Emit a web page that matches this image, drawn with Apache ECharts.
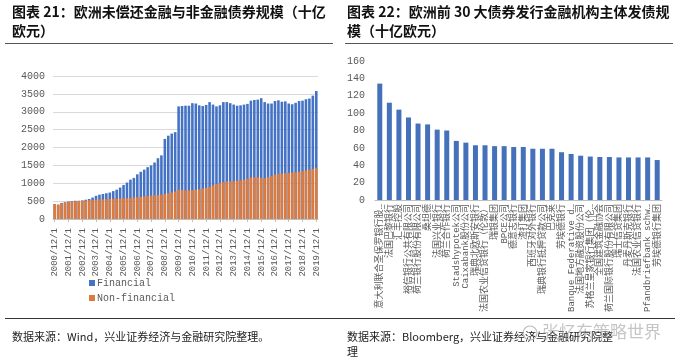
<!DOCTYPE html>
<html>
<head>
<meta charset="utf-8">
<script src="https://cdn.jsdelivr.net/npm/echarts@6/dist/echarts.min.js"></script>
<style>
html,body{margin:0;padding:0;background:#fff;}
#c{width:680px;height:357px;}
</style>
</head>
<body>
<div id="c"></div>
<script>
// ---------- Left chart data (quarterly, 十亿欧元) ----------
var dates = [
 '2000/12/1','2001/3/1','2001/6/1','2001/9/1','2001/12/1','2002/3/1','2002/6/1','2002/9/1',
 '2002/12/1','2003/3/1','2003/6/1','2003/9/1','2003/12/1','2004/3/1','2004/6/1','2004/9/1',
 '2004/12/1','2005/3/1','2005/6/1','2005/9/1','2005/12/1','2006/3/1','2006/6/1','2006/9/1',
 '2006/12/1','2007/3/1','2007/6/1','2007/9/1','2007/12/1','2008/3/1','2008/6/1','2008/9/1',
 '2008/12/1','2009/3/1','2009/6/1','2009/9/1','2009/12/1','2010/3/1','2010/6/1','2010/9/1',
 '2010/12/1','2011/3/1','2011/6/1','2011/9/1','2011/12/1','2012/3/1','2012/6/1','2012/9/1',
 '2012/12/1','2013/3/1','2013/6/1','2013/9/1','2013/12/1','2014/3/1','2014/6/1','2014/9/1',
 '2014/12/1','2015/3/1','2015/6/1','2015/9/1','2015/12/1','2016/3/1','2016/6/1','2016/9/1',
 '2016/12/1','2017/3/1','2017/6/1','2017/9/1','2017/12/1','2018/3/1','2018/6/1','2018/9/1',
 '2018/12/1','2019/3/1','2019/6/1','2019/9/1','2019/12/1'
];
var financial = [
 420,400,450,470,490,500,510,510,
 520,540,560,600,650,680,700,720,
 740,780,820,880,950,1020,1100,1150,
 1250,1320,1380,1450,1500,1580,1700,1780,
 2240,2330,2390,2430,3150,3160,3170,3170,
 3240,3230,3180,3160,3190,3270,3200,3150,
 3180,3270,3270,3240,3200,3170,3180,3200,
 3220,3310,3330,3340,3380,3270,3230,3230,
 3300,3320,3280,3290,3230,3210,3250,3300,
 3310,3350,3370,3450,3580
];
var nonFinancial = [
 420,400,440,460,480,490,500,505,
 510,520,525,530,540,545,550,555,
 560,565,570,575,580,585,590,600,
 610,620,630,645,655,665,670,680,
 700,720,745,770,820,810,800,800,
 810,820,830,850,870,900,940,980,
 1000,1030,1050,1050,1060,1070,1080,1100,
 1130,1160,1170,1170,1150,1140,1170,1200,
 1240,1260,1270,1280,1290,1300,1310,1320,
 1340,1360,1380,1400,1420
];
var leftYTicks = [0,500,1000,1500,2000,2500,3000,3500,4000];

// ---------- Right chart data ----------
var issuers = [
 '意大利联合圣保罗银行股份有限公司','法国巴黎银行','汇丰控股','裕信银行公共有限公司',
 '荷兰银行股份有限公司','桑坦德','法国兴业银行','荷兰合作银行','Stadshypotek公司',
 'Caixabank股份公司','瑞典北欧斯安银行','法国农业信贷银行（伦敦）','瑞银集团','BPCE公司',
 '德意志银行','渣打集团','西班牙对外银行','瑞典银行抵押贷款公司','巴克莱','劳埃德银行',
 'Banque Federative du Credit Mutuel','法国地方融资股份公司','苏格兰皇家银行集团（伦敦分行）',
 '全国建筑金融协会','荷兰国际银行股份有限公司','瑞士信贷集团','丹麦丹斯克银行',
 '法国农业信贷银行','Pfandbriefbank schweizerischer','劳埃德银行集团'
];
var issuance = [
 134,112,104,95,88,87,81,80,68,66,
 63,63,62,62,61,61,59,59,59,55,
 53,51,50,49.5,49.5,49,49,49,49,46
];
var rightYTicks = [0,20,40,60,80,100,120,140,160];

var mono = "'Liberation Mono','Noto Sans CJK SC',monospace";
var cjk = "'Noto Sans CJK SC',sans-serif";
var gray = '#595959';
function plain(v){ return String(v); }

var chart = echarts.init(document.getElementById('c'), null, {renderer:'canvas'});
chart.setOption({
  animation:false,
  backgroundColor:'#fff',
  grid:[
    {left:53, right:362, top:76, bottom:138, containLabel:false},
    {left:375, right:18, top:61, bottom:157, containLabel:false}
  ],
  legend:{
    data:['Financial','Non-financial'],
    left:84, top:273, orient:'vertical', itemWidth:6, itemHeight:6, itemGap:5,
    textStyle:{fontFamily:mono, fontSize:10, color:gray, padding:[0,0,0,-3]},
    icon:'rect'
  },
  xAxis:[
    {type:'category', gridIndex:0, data:dates,
     axisLine:{lineStyle:{color:'#BFBFBF'}},
     axisTick:{show:true, interval:3, alignWithLabel:true, length:3, lineStyle:{color:'#BFBFBF'}},
     axisLabel:{interval:3, rotate:90, fontFamily:mono, fontSize:9, color:gray, margin:9}
    },
    {type:'category', gridIndex:1, data:issuers,
     axisLine:{lineStyle:{color:'#BFBFBF'}},
     axisTick:{show:false},
     axisLabel:{interval:0, rotate:90, fontFamily:mono, fontSize:9, color:gray, margin:4,
       width:112, overflow:'truncate', ellipsis:'…'}
    }
  ],
  yAxis:[
    {type:'value', gridIndex:0, min:leftYTicks[0], max:leftYTicks[leftYTicks.length-1], interval:500,
     axisLine:{show:false}, axisTick:{show:false},
     axisLabel:{fontFamily:mono, fontSize:10, color:gray, margin:8, formatter:plain},
     splitLine:{lineStyle:{color:'#D9D9D9'}}
    },
    {type:'value', gridIndex:1, min:rightYTicks[0], max:rightYTicks[rightYTicks.length-1], interval:20,
     axisLine:{show:false}, axisTick:{show:false},
     axisLabel:{fontFamily:mono, fontSize:10, color:gray, margin:10, formatter:plain},
     splitLine:{show:false}
    }
  ],
  series:[
    {name:'Financial', type:'bar', xAxisIndex:0, yAxisIndex:0, data:financial,
     itemStyle:{color:'#4472C4'}, barCategoryGap:'25%', barGap:'-100%'},
    {name:'Non-financial', type:'bar', xAxisIndex:0, yAxisIndex:0, data:nonFinancial,
     itemStyle:{color:'#DD7A3C'}, barCategoryGap:'25%', barGap:'-100%'},
    {name:'发债规模', type:'bar', xAxisIndex:1, yAxisIndex:1, data:issuance,
     itemStyle:{color:'#4570BA'}, barWidth:5}
  ],
  graphic:[
    {type:'text', left:12, top:5, style:{text:'图表 21：欧洲未偿还金融与非金融债券规模（十亿', font:'bold 14px '+cjk, fill:'#111'}},
    {type:'text', left:12, top:24, style:{text:'欧元）', font:'bold 14px '+cjk, fill:'#111'}},
    {type:'text', left:347, top:5, style:{text:'图表 22：欧洲前 30 大债券发行金融机构主体发债规', font:'bold 14px '+cjk, fill:'#111'}},
    {type:'text', left:347, top:24, style:{text:'模（十亿欧元）', font:'bold 14px '+cjk, fill:'#111'}},
    {type:'line', shape:{x1:5, y1:43.5, x2:333, y2:43.5}, style:{stroke:'#555', lineWidth:1}},
    {type:'line', shape:{x1:345, y1:43.5, x2:673, y2:43.5}, style:{stroke:'#555', lineWidth:1}},
    {type:'line', shape:{x1:5, y1:318.5, x2:675, y2:318.5}, style:{stroke:'#333', lineWidth:1}},
    {type:'text', left:12, top:331, style:{text:'数据来源：Wind，兴业证券经济与金融研究院整理。', font:'11px '+cjk, fill:'#222'}},
    {type:'text', left:347, top:331, style:{text:'数据来源：Bloomberg，兴业证券经济与金融研究院整', font:'11px '+cjk, fill:'#222'}},
    {type:'text', left:347, top:346, style:{text:'理', font:'11px '+cjk, fill:'#222'}},
    {type:'circle', shape:{cx:530, cy:333, r:7}, style:{fill:'none', stroke:'#bbb', lineWidth:1.2}},
    {type:'text', left:542, top:323, style:{text:'张忆东策略世界', font:'17px '+cjk, fill:'rgba(150,150,150,0.55)'}}
  ]
});
</script>
</body>
</html>
